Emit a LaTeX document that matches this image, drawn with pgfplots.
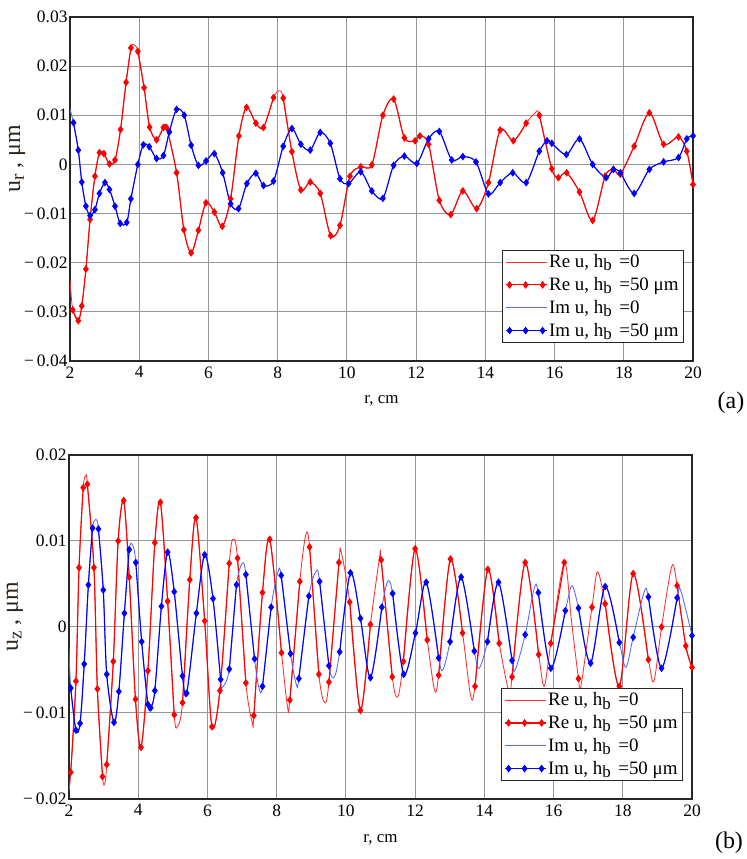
\documentclass[border=0pt]{standalone}
\usepackage{pgfplots}
\pgfplotsset{compat=1.18}
\usepackage{pgfplotstable}
\usepackage{fontspec}
\setmainfont{Liberation Serif}

\definecolor{reu}{RGB}{255,0,0}
\definecolor{imu}{RGB}{0,0,255}
\definecolor{reuthin}{RGB}{255,45,45}
\definecolor{imuthin}{RGB}{85,100,255}
\definecolor{gridgray}{RGB}{150,150,150}
\definecolor{labelink}{RGB}{45,35,25}

% column m: 1 = computed point of the h_b = 50 um solution (drawn with a mark)
% panel (a): radial displacement u_r
\pgfplotstableread{
x y m
2.00 -0.0235 0
2.08 -0.0296 1
2.24 -0.0318 1
2.34 -0.0288 1
2.46 -0.0213 1
2.58 -0.0112 1
2.72 -0.0024 1
2.85 0.0024 1
2.98 0.0022 1
3.14 0.0001 1
3.30 0.0009 1
3.46 0.0071 1
3.62 0.0167 1
3.76 0.0237 1
3.86 0.0243 0
3.96 0.0230 1
4.14 0.0156 1
4.30 0.0076 1
4.50 0.0050 1
4.70 0.0075 1
4.79 0.0075 1
5.08 -0.0017 1
5.29 -0.0133 1
5.50 -0.0180 1
5.71 -0.0134 1
5.93 -0.0078 1
6.17 -0.0097 1
6.40 -0.0126 1
6.64 -0.0070 1
6.88 0.0058 1
7.10 0.0116 1
7.37 0.0084 1
7.59 0.0075 1
7.88 0.0136 1
8.05 0.0150 0
8.16 0.0135 1
8.41 0.0026 1
8.67 -0.0052 1
8.94 -0.0036 1
9.23 -0.0059 1
9.53 -0.0145 1
9.80 -0.0124 1
10.09 -0.0024 1
10.40 -0.0005 1
10.72 -0.0001 1
11.04 0.0100 1
11.35 0.0133 1
11.66 0.0054 1
11.97 0.0048 1
12.11 0.0058 1
12.36 0.0041 1
12.67 -0.0073 1
13.00 -0.0102 1
13.35 -0.0054 1
13.75 -0.0090 1
14.09 -0.0037 1
14.43 0.0070 1
14.81 0.0048 1
15.18 0.0084 1
15.44 0.0105 0
15.56 0.0100 1
15.92 -0.0009 1
16.11 -0.0027 1
16.35 -0.0017 1
16.72 -0.0056 1
17.10 -0.0114 1
17.46 -0.0024 1
17.70 -0.0010 1
17.90 -0.0020 1
18.30 0.0037 1
18.74 0.0105 1
19.15 0.0041 1
19.58 0.0056 1
19.82 0.0027 1
20.00 -0.0041 1
}\ReUr

\pgfplotstableread{
x y m
2.00 0.0112 0
2.10 0.0085 1
2.24 0.0029 1
2.34 -0.0036 1
2.46 -0.0085 1
2.58 -0.0104 1
2.72 -0.0092 1
2.85 -0.0059 1
3.01 -0.0037 1
3.14 -0.0051 1
3.30 -0.0085 1
3.45 -0.0120 1
3.64 -0.0118 1
3.76 -0.0070 1
3.96 0.0000 1
4.12 0.0040 1
4.29 0.0036 1
4.50 0.0012 1
4.70 0.0018 1
4.87 0.0066 1
5.08 0.0112 1
5.30 0.0100 1
5.50 0.0039 1
5.71 -0.0002 1
5.93 0.0007 1
6.17 0.0022 1
6.41 -0.0017 1
6.64 -0.0080 1
6.87 -0.0090 1
7.11 -0.0039 1
7.37 -0.0018 1
7.59 -0.0043 1
7.88 -0.0034 1
8.16 0.0037 1
8.41 0.0073 1
8.67 0.0041 1
8.94 0.0029 1
9.23 0.0065 1
9.52 0.0043 1
9.80 -0.0029 1
10.05 -0.0039 1
10.40 -0.0015 1
10.72 -0.0054 1
11.04 -0.0069 1
11.35 -0.0002 1
11.66 0.0017 1
12.02 0.0002 1
12.36 0.0052 1
12.67 0.0067 1
13.03 0.0009 1
13.35 0.0016 1
13.73 0.0005 1
14.09 -0.0060 1
14.43 -0.0037 1
14.79 -0.0017 1
15.18 -0.0037 1
15.56 0.0027 1
15.78 0.0048 1
15.92 0.0043 1
16.34 0.0020 1
16.72 0.0052 1
17.10 0.0000 1
17.49 -0.0027 1
17.70 -0.0010 1
17.90 -0.0017 1
18.30 -0.0059 1
18.74 -0.0010 1
19.15 0.0005 1
19.58 0.0014 1
19.82 0.0052 1
20.00 0.0058 1
}\ImUr

% panel (b): axial displacement u_z
\pgfplotstableread{
x y m
2.00 -0.0190 0
2.05 -0.0169 1
2.20 -0.0063 1
2.29 0.0069 1
2.41 0.0162 1
2.49 0.0176 0
2.53 0.0166 1
2.72 0.0069 1
2.82 -0.0072 1
2.97 -0.0174 1
3.04 -0.0181 0
3.09 -0.0160 1
3.28 -0.0040 1
3.42 0.0100 1
3.58 0.0147 1
3.74 0.0058 1
3.92 -0.0084 1
4.08 -0.0140 1
4.28 -0.0051 1
4.48 0.0098 1
4.64 0.0145 1
4.85 0.0030 1
5.04 -0.0102 1
5.13 -0.0116 0
5.28 -0.0088 1
5.49 0.0055 1
5.67 0.0127 1
5.92 0.0007 1
6.13 -0.0116 1
6.36 -0.0074 1
6.63 0.0074 1
6.74 0.0102 0
6.87 0.0080 1
7.11 -0.0065 1
7.30 -0.0112 0
7.34 -0.0103 1
7.59 0.0040 1
7.80 0.0102 1
8.14 -0.0030 1
8.31 -0.0092 0
8.38 -0.0085 1
8.67 0.0053 1
8.84 0.0107 0
8.95 0.0093 1
9.22 -0.0055 1
9.39 -0.0088 0
9.51 -0.0064 1
9.80 0.0075 1
9.86 0.0088 0
10.11 0.0029 1
10.42 -0.0097 1
10.71 0.0003 1
10.97 0.0080 0
11.02 0.0078 1
11.34 -0.0058 1
11.50 -0.0081 0
11.66 -0.0040 1
12.00 0.0091 1
12.35 -0.0015 1
12.56 -0.0073 0
12.68 -0.0056 1
13.02 0.0079 1
13.37 -0.0007 1
13.60 -0.0079 0
13.73 -0.0069 1
14.10 0.0067 1
14.43 -0.0019 1
14.72 -0.0077 0
14.80 -0.0058 1
15.18 0.0075 1
15.57 -0.0032 1
15.73 -0.0069 0
15.92 -0.0019 1
16.31 0.0075 1
16.52 0.0006 0
16.72 -0.0060 1
16.79 -0.0069 0
17.11 0.0023 1
17.27 0.0064 0
17.49 0.0027 1
17.90 -0.0069 1
18.30 0.0062 1
18.74 -0.0038 1
18.90 -0.0063 0
19.12 0.0000 1
19.42 0.0071 0
19.57 0.0048 1
19.82 -0.0022 1
20.00 -0.0047 1
}\ReUz

\pgfplotstableread{
x y m
2.00 -0.0025 0
2.05 -0.0071 1
2.20 -0.0120 1
2.32 -0.0112 1
2.44 -0.0043 1
2.56 0.0049 1
2.68 0.0115 1
2.78 0.0125 0
2.85 0.0114 1
2.99 0.0043 1
3.09 -0.0055 1
3.30 -0.0111 1
3.44 -0.0075 1
3.60 0.0016 1
3.74 0.0090 1
3.84 0.0095 0
3.93 0.0075 1
4.10 -0.0017 1
4.28 -0.0090 1
4.36 -0.0094 1
4.48 -0.0074 1
4.67 0.0024 1
4.85 0.0087 1
5.04 0.0041 1
5.28 -0.0057 1
5.40 -0.0077 1
5.68 0.0016 1
5.92 0.0084 1
6.16 0.0033 1
6.38 -0.0061 1
6.43 -0.0070 0
6.63 -0.0049 1
6.84 0.0049 1
7.01 0.0074 0
7.11 0.0061 1
7.36 -0.0037 1
7.49 -0.0071 0
7.59 -0.0069 1
7.84 0.0023 1
8.03 0.0063 0
8.13 0.0060 1
8.40 -0.0031 1
8.57 -0.0067 0
8.64 -0.0060 1
8.93 0.0036 1
9.14 0.0065 0
9.24 0.0053 1
9.51 -0.0045 1
9.67 -0.0058 0
9.82 -0.0029 1
10.13 0.0063 1
10.42 0.0010 1
10.71 -0.0059 1
11.04 0.0023 1
11.21 0.0053 0
11.35 0.0039 1
11.67 -0.0055 1
12.01 -0.0007 1
12.32 0.0052 1
12.68 -0.0036 1
12.80 -0.0050 0
13.01 -0.0017 1
13.33 0.0058 1
13.71 -0.0028 1
13.85 -0.0048 0
14.09 -0.0017 1
14.41 0.0052 1
14.80 -0.0039 1
14.89 -0.0050 0
15.18 -0.0009 1
15.44 0.0045 0
15.56 0.0040 1
15.92 -0.0048 1
16.34 0.0019 1
16.53 0.0048 0
16.72 0.0022 1
17.07 -0.0042 1
17.49 0.0047 1
17.90 -0.0018 1
18.09 -0.0047 0
18.30 -0.0012 1
18.62 0.0041 0
18.74 0.0035 1
19.12 -0.0048 1
19.57 0.0034 1
19.67 0.0043 0
20.00 -0.0010 1
}\ImUz

\pgfplotsset{
  panel/.style={
    scale only axis, width=623bp, height=344bp,
    anchor=south west,
    xmin=2, xmax=20,
    xtick={2,4,6,8,10,12,14,16,18,20},
    xticklabels={2,4,6,8,10,12,14,16,18,20},
    scaled y ticks=false, scaled x ticks=false,
    grid=major,
    major grid style={gridgray, line width=1bp},
    axis line style={line width=1.2bp, black!85},
    major tick style={draw=none},
    tick label style={font=\fontsize{17.5}{17.5}\selectfont},
    xticklabel style={yshift=-2bp},
    yticklabel style={xshift=1bp},
    /pgf/number format/assume math mode=true,
    xlabel={r, cm},
    xlabel style={font=\fontsize{17}{17}\selectfont, anchor=center},
    ylabel style={font=\fontsize{24}{24}\selectfont, color=labelink, anchor=center},
    legend cell align=left,
    legend style={
      at={(0.9855,0.323)}, anchor=north east,
      draw=black!85, line width=0.9bp,
      font=\fontsize{19}{19}\selectfont,
      inner xsep=3bp, inner ysep=2.5bp, row sep=4.2bp,
      /tikz/every even column/.append style={column sep=4bp},
    },
  },
  % thin curve of the h_b = 0 solution; argument: colour
  solidcurve/.style={smooth, line width=0.85bp, mark=none, color=#1,
    legend image code/.code={\draw[line width=1bp, draw=#1] (0bp,0bp) -- (41bp,0bp);}},
  % marked curve of the h_b = 50 um solution; argument: colour
  markedcurve/.style={smooth, line width=1.1bp, mark=diamond*, mark size=3bp, color=#1,
    restrict expr to domain={\thisrow{m}}{0.5:1.5},
    legend image code/.code={
      \draw[line width=1.1bp, draw=#1] (0bp,0bp) -- (41bp,0bp);
      \foreach \p in {4,20,37}{
        \fill[#1] (\p bp,3bp) -- (\p bp+2.25bp,0bp) -- (\p bp,-3bp) -- (\p bp-2.25bp,0bp) -- cycle;}}},
}

\newcommand{\hb}{h\raisebox{-0.35ex}{\fontsize{17}{17}\selectfont b}\hspace{0.4em}}

\begin{document}
\begin{tikzpicture}[x=1bp,y=1bp]
\useasboundingbox (0,0) rectangle (747,859);

% (a) radial component
\begin{axis}[panel, at={(70bp,498bp)},
  ymin=-0.04, ymax=0.03,
  ytick={-0.04,-0.03,-0.02,-0.01,0,0.01,0.02,0.03},
  yticklabels={−\,0.04,−\,0.03,−\,0.02,−\,0.01,0,0.01,0.02,0.03},
  xlabel style={at={(axis description cs:0.5,-0.117)}},
  ylabel={u\raisebox{-0.35ex}{\fontsize{19}{19}\selectfont r} , μm},
  ylabel style={at={(axis description cs:-0.085,0.587)}},
]
\addplot[solidcurve=reuthin] table[x=x,y=y] {\ReUr};
\addlegendentry{Re u, \hb=0}
\addplot[markedcurve=reu] table[x=x,y=y] {\ReUr};
\addlegendentry{Re u, \hb=50 μm}
\addplot[solidcurve=imuthin] table[x=x,y=y] {\ImUr};
\addlegendentry{Im u, \hb=0}
\addplot[markedcurve=imu] table[x=x,y=y] {\ImUr};
\addlegendentry{Im u, \hb=50 μm}
\end{axis}

% (b) axial component
\begin{axis}[panel, at={(69bp,60bp)},
  ymin=-0.02, ymax=0.02,
  ytick={-0.02,-0.01,0,0.01,0.02},
  yticklabels={−\,0.02,−\,0.01,0,0.01,0.02},
  xlabel style={at={(axis description cs:0.5,-0.12)}},
  ylabel={u\raisebox{-0.35ex}{\fontsize{19}{19}\selectfont z} , μm},
  ylabel style={at={(axis description cs:-0.087,0.529)}},
]
\addplot[solidcurve=reuthin] table[x=x,y=y] {\ReUz};
\addlegendentry{Re u, \hb=0}
\addplot[markedcurve=reu] table[x=x,y=y] {\ReUz};
\addlegendentry{Re u, \hb=50 μm}
\addplot[solidcurve=imuthin] table[x=x,y=y] {\ImUz};
\addlegendentry{Im u, \hb=0}
\addplot[markedcurve=imu] table[x=x,y=y] {\ImUz};
\addlegendentry{Im u, \hb=50 μm}
\end{axis}

\node[font=\fontsize{24}{24}\selectfont] at (731,456) {(a)};
\node[font=\fontsize{24}{24}\selectfont] at (729,16) {(b)};
\end{tikzpicture}
\end{document}
